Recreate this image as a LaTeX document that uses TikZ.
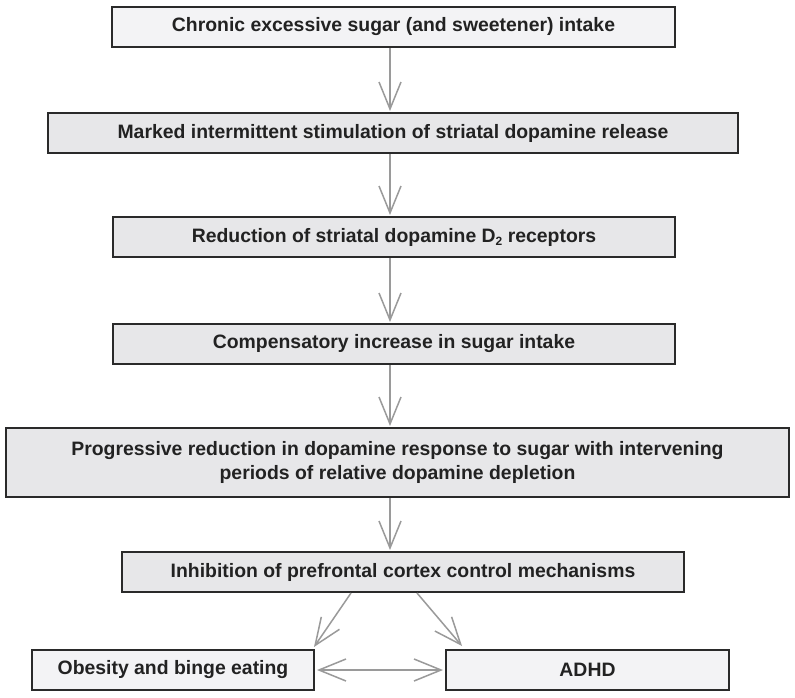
\documentclass[tikz,border=0pt]{standalone}
\usepackage{fontspec}
\setmainfont{Liberation Sans}
\usetikzlibrary{arrows.meta}
\definecolor{boxdark}{HTML}{E7E7E9}
\definecolor{boxlight}{HTML}{F3F3F5}
\definecolor{edge}{HTML}{2A2A2A}
\definecolor{arrowgray}{HTML}{9A9A9A}
\definecolor{txt}{HTML}{222222}
\begin{document}
\begin{tikzpicture}[x=1pt,y=-1pt,
  flowbox/.style={draw=edge, line width=2pt, fill=boxdark, inner sep=0pt,
    minimum height=40pt, align=center, text=txt,
    font=\fontsize{19.4}{24}\selectfont\bfseries},
  lightbox/.style={flowbox, fill=boxlight},
  conn/.style={draw=arrowgray, line width=1.5pt,
    -{Straight Barb[length=27pt,width=22pt]}},
  dconn/.style={draw=arrowgray, line width=1.5pt,
    {Straight Barb[length=27pt,width=22pt]}-{Straight Barb[length=27pt,width=22pt]}}]
\useasboundingbox (0,0) rectangle (795,697);
\fill[white] (0,0) rectangle (795,697);
\node[lightbox, minimum width=563pt] (b1) at (393.5,27) {Chronic excessive sugar (and sweetener) intake};
\node[flowbox, minimum width=690pt] (b2) at (393,133) {Marked intermittent stimulation of striatal dopamine release};
\node[flowbox, minimum width=562pt] (b3) at (394,237) {Reduction of striatal dopamine D\raisebox{-3pt}{\fontsize{12}{12}\selectfont 2} receptors};
\node[flowbox, minimum width=562pt] (b4) at (394,344) {Compensatory increase in sugar intake};
\node[flowbox, minimum width=783pt, minimum height=69pt] (b5) at (397.5,462.5) {Progressive reduction in dopamine response to sugar with intervening\\periods of relative dopamine depletion};
\node[flowbox, minimum width=562pt] (b6) at (403,572) {Inhibition of prefrontal cortex control mechanisms};
\node[lightbox, minimum width=282pt] (b7) at (173,670) {Obesity and binge eating};
\node[lightbox, minimum width=283pt] (b8) at (587.5,670) {ADHD};
\coordinate (ax) at (390,0);
\draw[conn] (b1.south -| ax) -- ([yshift=1pt]b2.north -| ax);
\draw[conn] (b2.south -| ax) -- ([yshift=1pt]b3.north -| ax);
\draw[conn] (b3.south -| ax) -- ([yshift=1pt]b4.north -| ax);
\draw[conn] (b4.south -| ax) -- ([yshift=1pt]b5.north -| ax);
\draw[conn] (b5.south -| ax) -- ([yshift=1pt]b6.north -| ax);
\draw[conn] ([xshift=-52pt]b6.south) -- ([xshift=-1pt,yshift=2pt]b7.north east);
\draw[conn] ([xshift=14pt]b6.south) -- ([xshift=17pt,yshift=3pt]b8.north west);
\draw[dconn, shorten <=2pt, shorten >=2pt] (b7.east) -- (b8.west);
\end{tikzpicture}
\end{document}
